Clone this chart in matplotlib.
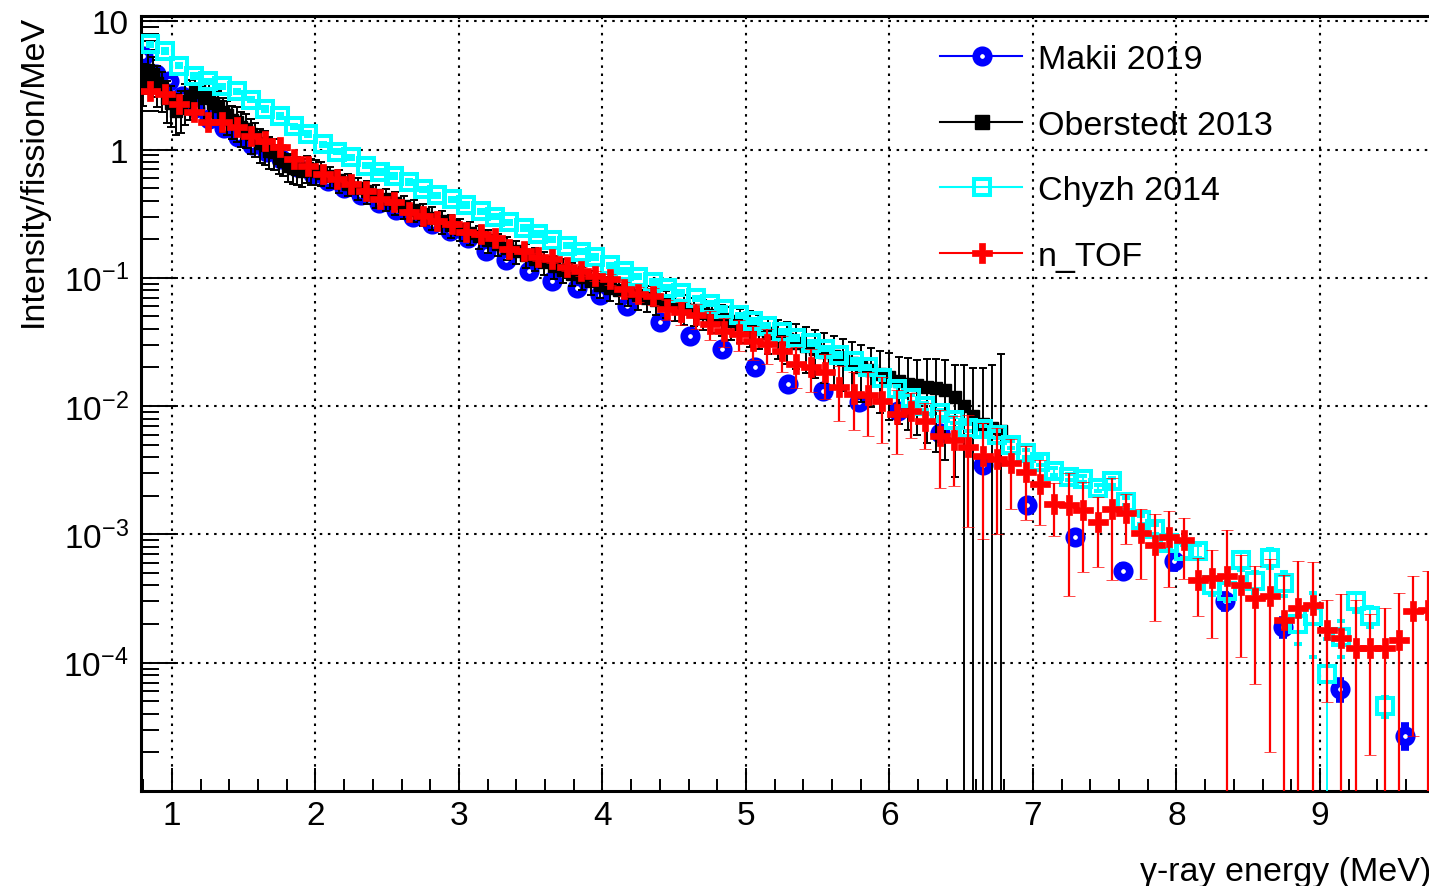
import numpy as np
import matplotlib.pyplot as plt
from matplotlib.lines import Line2D
from matplotlib.ticker import FixedLocator, MultipleLocator, LogLocator, NullFormatter

plt.rcParams['font.family'] = ['Liberation Sans', 'DejaVu Sans']
plt.rcParams['mathtext.fontset'] = 'custom'
plt.rcParams['mathtext.rm'] = 'Liberation Sans'
plt.rcParams['mathtext.it'] = 'Liberation Sans:italic'
plt.rcParams['mathtext.bf'] = 'Liberation Sans:bold'

# ---- data ----
makii_x = [0.80, 0.89, 0.98, 1.07, 1.16, 1.26, 1.36, 1.46, 1.56, 1.66,
           1.76, 1.87, 1.98, 2.09, 2.20, 2.32, 2.44, 2.56, 2.68, 2.81,
           2.94, 3.06, 3.19, 3.33, 3.49, 3.65, 3.82, 3.98, 4.17, 4.40,
           4.61, 4.83, 5.06, 5.29, 5.54, 5.79, 6.06, 6.35, 6.65, 6.96,
           7.29, 7.63, 7.98, 8.34, 8.74, 9.14, 9.59]
makii_y = [5.35, 3.9, 3.4, 2.6, 2.1, 1.74, 1.46, 1.26, 1.09, 0.95,
           0.84, 0.73, 0.64, 0.565, 0.50, 0.44, 0.385, 0.34, 0.30, 0.262,
           0.231, 0.205, 0.163, 0.137, 0.114, 0.095, 0.083, 0.0730, 0.0605, 0.0455,
           0.0354, 0.028, 0.0203, 0.0150, 0.0130, 0.0108, 0.0091, 0.0062, 0.0035, 0.0017,
           0.00095, 0.00052, 0.00062, 0.00030, 0.00019, 0.000062, 0.000027]
makii_err = [0.27, 0.2, 0.16, 0.12, 0.1, 0.085, 0.07, 0.06, 0.055, 0.047,
             0.041, 0.036, 0.031, 0.028, 0.024, 0.021, 0.019, 0.017, 0.015, 0.013,
             0.011, 0.01, 0.008, 0.0067, 0.0056, 0.0047, 0.0041, 0.0036, 0.003, 0.0023,
             0.0018, 0.0014, 0.001, 0.00075, 0.00065, 0.00054, 0.00046, 0.00031, 0.00021, 0.00011,
             0.00007, 0.00005, 0.00007, 0.000035, 0.000025, 0.00001, 0.000005]

ober_x = [0.800, 0.833, 0.865, 0.898, 0.930, 0.963, 0.995, 1.028, 1.060, 1.093,
          1.125, 1.158, 1.190, 1.223, 1.255, 1.288, 1.320, 1.353, 1.385, 1.418,
          1.450, 1.483, 1.515, 1.548, 1.580, 1.613, 1.645, 1.678, 1.710, 1.743,
          1.775, 1.808, 1.840, 1.873, 1.905, 1.938, 1.970, 2.003, 2.035,
          2.100, 2.165, 2.230, 2.295, 2.360, 2.425, 2.490, 2.555, 2.620, 2.685,
          2.750, 2.815, 2.880, 2.945, 3.010, 3.075, 3.140, 3.205, 3.270, 3.335,
          3.400, 3.465, 3.530, 3.595, 3.660, 3.725, 3.790, 3.855, 3.920, 3.985,
          4.050, 4.115, 4.180, 4.245, 4.310, 4.375, 4.440, 4.505, 4.570, 4.635,
          4.700, 4.765, 4.830, 4.895, 4.960, 5.025, 5.090, 5.155, 5.220, 5.285,
          5.350, 5.415, 5.480, 5.545, 5.610, 5.675, 5.740, 5.805, 5.870, 5.935,
          6.000, 6.065, 6.130, 6.195, 6.260, 6.325, 6.390, 6.455, 6.520, 6.585,
          6.650, 6.715, 6.780]
ober_y = [3.4, 4.2, 3.9, 3.3, 3.0, 2.5, 2.3, 2.0, 2.1, 2.4,
          2.6, 2.8, 2.9, 2.5, 2.6, 2.3, 2.2, 1.95, 1.85, 1.7,
          1.65, 1.5, 1.45, 1.32, 1.25, 1.12, 1.08, 0.98, 0.95, 0.86,
          0.82, 0.74, 0.72, 0.70, 0.68, 0.72, 0.69, 0.68, 0.66,
          0.617, 0.577, 0.540, 0.505, 0.472, 0.441, 0.413, 0.386, 0.361, 0.337,
          0.315, 0.295, 0.276, 0.258, 0.241, 0.225, 0.211, 0.197, 0.184, 0.172,
          0.161, 0.151, 0.141, 0.132, 0.123, 0.115, 0.108, 0.101, 0.094, 0.088,
          0.084, 0.080, 0.077, 0.073, 0.070, 0.067, 0.064, 0.061, 0.058, 0.056,
          0.053, 0.051, 0.048, 0.046, 0.044, 0.042, 0.0397, 0.0374, 0.0352, 0.0332,
          0.0313, 0.0295, 0.0278, 0.0262, 0.0246, 0.0231, 0.0217, 0.0203, 0.0191, 0.0179,
          0.0168, 0.0158, 0.0150, 0.0145, 0.0142, 0.0139, 0.0133, 0.0118, 0.0100, 0.0083,
          0.0072, 0.0068, 0.0064]
ober_err = [1.2, 1.5, 1.35, 1.15, 1.05, 0.9, 0.8, 0.7, 0.75, 0.85,
            0.9, 0.95, 0.9, 0.8, 0.8, 0.7, 0.66, 0.58, 0.55, 0.5,
            0.5, 0.45, 0.43, 0.4, 0.37, 0.33, 0.32, 0.27, 0.26, 0.22,
            0.2, 0.18, 0.18, 0.17, 0.17, 0.17, 0.16, 0.15, 0.14,
            0.12, 0.115, 0.108, 0.10, 0.094, 0.088, 0.083, 0.077, 0.072, 0.067,
            0.063, 0.059, 0.055, 0.052, 0.048, 0.045, 0.042, 0.040, 0.037, 0.035,
            0.033, 0.031, 0.029, 0.027, 0.025, 0.024, 0.022, 0.021, 0.020, 0.019,
            0.018, 0.018, 0.017, 0.017, 0.016, 0.016, 0.015, 0.015, 0.015, 0.014,
            0.014, 0.014, 0.013, 0.013, 0.013, 0.013, 0.012, 0.012, 0.012, 0.012,
            0.012, 0.0115, 0.0112, 0.011, 0.0105, 0.010, 0.0098, 0.0095, 0.0092, 0.009,
            0.009, 0.0085, 0.0085, 0.0085, 0.009, 0.0095, 0.0095, 0.009, 0.011, 0.0115,
            0.0125, 0.014, 0.019]

chyzh_x = [0.85, 0.95, 1.05, 1.15, 1.25, 1.35, 1.45, 1.55, 1.65, 1.75,
           1.85, 1.95, 2.05, 2.15, 2.25, 2.35, 2.45, 2.55, 2.65, 2.75,
           2.85, 2.95, 3.05, 3.15, 3.25, 3.35, 3.45, 3.55, 3.65, 3.75,
           3.85, 3.95, 4.05, 4.15, 4.25, 4.35, 4.45, 4.55, 4.65, 4.75,
           4.85, 4.95, 5.05, 5.15, 5.25, 5.35, 5.45, 5.55, 5.65, 5.75,
           5.85, 5.95, 6.05, 6.15, 6.25, 6.35, 6.45, 6.55, 6.65, 6.75,
           6.85, 6.95, 7.05, 7.15, 7.25, 7.35, 7.45, 7.55, 7.65, 7.75,
           7.85, 7.95, 8.05, 8.15, 8.25, 8.35, 8.45, 8.55, 8.65, 8.75,
           8.85, 8.95, 9.05, 9.15, 9.25, 9.35, 9.45]
chyzh_y = [6.6, 5.85, 4.5, 3.75, 3.4, 3.1, 2.85, 2.45, 2.07, 1.82,
           1.52, 1.32, 1.10, 0.96, 0.87, 0.75, 0.67, 0.62, 0.56, 0.49,
           0.44, 0.41, 0.37, 0.33, 0.30, 0.27, 0.245, 0.22, 0.198, 0.178,
           0.16, 0.145, 0.125, 0.113, 0.102, 0.093, 0.084, 0.076, 0.069, 0.063,
           0.057, 0.051, 0.046, 0.042, 0.038, 0.034, 0.031, 0.028, 0.025, 0.0225,
           0.0200, 0.0165, 0.0135, 0.0115, 0.0100, 0.0088, 0.0078, 0.0068, 0.0066, 0.0060,
           0.0050, 0.0043, 0.0037, 0.0031, 0.0028, 0.0027, 0.0023, 0.0026, 0.0018, 0.0013,
           0.0011, 0.00085, 0.00074, 0.00074, 0.00040, 0.00036, 0.00063, 0.00043, 0.00066, 0.00042,
           0.00020, 0.00023, 0.000081, 0.00016, 0.00030, 0.00023, 0.000046]
chyzh_err = [0.2, 0.18, 0.14, 0.11, 0.10, 0.09, 0.085, 0.07, 0.06, 0.055,
             0.045, 0.04, 0.033, 0.029, 0.026, 0.022, 0.02, 0.019, 0.017, 0.015,
             0.013, 0.012, 0.011, 0.010, 0.009, 0.008, 0.0074, 0.0066, 0.006, 0.0053,
             0.0048, 0.0044, 0.0038, 0.0034, 0.0031, 0.0028, 0.0025, 0.0023, 0.0021, 0.0019,
             0.0017, 0.0015, 0.0014, 0.0013, 0.0011, 0.001, 0.0009, 0.00085, 0.00075, 0.00068,
             0.0006, 0.0005, 0.0008, 0.0007, 0.0006, 0.00053, 0.00047, 0.0004, 0.0004, 0.00036,
             0.0003, 0.00026, 0.00022, 0.00019, 0.00016, 0.00016, 0.00014, 0.00016, 0.00012, 0.0001,
             0.00009, 0.00008, 0.00008, 0.00009, 0.00006, 0.00006, 0.0001, 0.00008, 0.00011, 0.00009,
             0.00006, 0.00012, 0.000072, 0.00005, 0.00005, 0.00004, 0.000008]

ntof_x = [0.85, 0.95, 1.05, 1.15, 1.25, 1.35, 1.45, 1.55, 1.65, 1.75,
          1.85, 1.95, 2.05, 2.15, 2.25, 2.35, 2.45, 2.55, 2.65, 2.75,
          2.85, 2.95, 3.05, 3.15, 3.25, 3.35, 3.45, 3.55, 3.65, 3.75,
          3.85, 3.95, 4.05, 4.15, 4.25, 4.35, 4.45, 4.55, 4.65, 4.75,
          4.85, 4.95, 5.05, 5.15, 5.25, 5.35, 5.45, 5.55, 5.65, 5.75,
          5.85, 5.95, 6.05, 6.15, 6.25, 6.35, 6.45, 6.55, 6.65, 6.75,
          6.85, 6.95, 7.05, 7.15, 7.25, 7.35, 7.45, 7.55, 7.65, 7.75,
          7.85, 7.95, 8.05, 8.15, 8.25, 8.35, 8.45, 8.55, 8.65, 8.75,
          8.85, 8.95, 9.05, 9.15, 9.25, 9.35, 9.45, 9.55, 9.65, 9.75]
ntof_y = [2.85, 2.70, 2.26, 1.96, 1.64, 1.64, 1.50, 1.27, 1.16, 1.05,
          0.843, 0.745, 0.645, 0.589, 0.539, 0.476, 0.412, 0.390, 0.326, 0.304,
          0.278, 0.263, 0.228, 0.220, 0.205, 0.168, 0.162, 0.146, 0.141, 0.122,
          0.113, 0.104, 0.098, 0.082, 0.075, 0.072, 0.057, 0.054, 0.051, 0.0438,
          0.0387, 0.0367, 0.0323, 0.0306, 0.0270, 0.0214, 0.0203, 0.0185, 0.0142, 0.0125,
          0.0121, 0.0110, 0.00875, 0.0091, 0.0076, 0.0058, 0.0054, 0.00484, 0.00412, 0.0039,
          0.00357, 0.00309, 0.00249, 0.00174, 0.00168, 0.00154, 0.00126, 0.00159, 0.00146, 0.00102,
          0.00082, 0.00096, 0.00090, 0.00044, 0.000455, 0.00047, 0.00040, 0.000318, 0.00033, 0.000214,
          0.000266, 0.00028, 0.000179, 0.000155, 0.00013, 0.00013, 0.00013, 0.00015, 0.000252, 0.000256]
ntof_err = [0.12, 0.11, 0.09, 0.08, 0.07, 0.07, 0.06, 0.05, 0.05, 0.045,
            0.035, 0.032, 0.028, 0.025, 0.023, 0.021, 0.018, 0.018, 0.015, 0.014,
            0.013, 0.013, 0.012, 0.012, 0.012, 0.010, 0.010, 0.010, 0.010, 0.009,
            0.009, 0.009, 0.010, 0.010, 0.010, 0.011, 0.010, 0.011, 0.011, 0.011,
            0.010, 0.010, 0.0095, 0.0095, 0.0085, 0.0075, 0.0075, 0.0072, 0.0065, 0.0060,
            0.0062, 0.0058, 0.0045, 0.0035, 0.0030, 0.0035, 0.0030, 0.0037, 0.0032, 0.0029,
            0.0020, 0.0018, 0.0013, 0.00077, 0.00135, 0.00103, 0.00070, 0.00115, 0.00062, 0.00057,
            0.00061, 0.00057, 0.00045, 0.00021, 0.00030, 0.00062, 0.00029, 0.00025, 0.00031, 0.00027,
            0.00035, 0.00033, 0.00013, 0.00019, 0.000176, 0.000111, 0.000135, 0.00020, 0.000225, 0.00026]

labels = ["Makii 2019", "Oberstedt 2013", "Chyzh 2014", "n_TOF"]
ytick_vals = [1e-4, 1e-3, 1e-2, 1e-1, 1, 10]
ytick_text = [r'$\mathregular{10^{-4}}$', r'$\mathregular{10^{-3}}$',
              r'$\mathregular{10^{-2}}$', r'$\mathregular{10^{-1}}$', '1', '10']

W, H = 1429, 887
fig = plt.figure(figsize=(W / 100, H / 100), dpi=100)
ax = fig.add_axes([141 / W, 1 - 792 / H, (W - 141) / W, (792 - 17) / H])

# styles for each series
st_makii = dict(marker='o', ls='none', color='blue', ms=9.0, mfc='white', mec='blue', mew=5.5)
st_ober = dict(marker='s', ls='none', color='black', ms=8.0)
st_chyzh = dict(marker='s', ls='none', color='#00ffff', ms=11.5, mfc='none', mec='#00ffff', mew=2.9)
st_ntof = dict(marker='P', ls='none', color='red', ms=14, mfc='red', mec='red', mew=0.5)

ax.errorbar(makii_x, makii_y, yerr=makii_err, ecolor='blue', elinewidth=1.4,
            capsize=3, capthick=1.4, zorder=2, **st_makii)
ax.errorbar(ober_x, ober_y, yerr=ober_err, ecolor='black', elinewidth=1.4,
            capsize=3, capthick=1.4, zorder=3, **st_ober)
ax.errorbar(chyzh_x, chyzh_y, yerr=chyzh_err, ecolor='#00ffff', elinewidth=1.4,
            capsize=3, capthick=1.4, zorder=4, **st_chyzh)
ax.errorbar(ntof_x, ntof_y, yerr=ntof_err, ecolor='red', elinewidth=1.6,
            capsize=4, capthick=1.6, zorder=5, **st_ntof)

ax.set_yscale('log')
ax.set_xlim(0.784, 9.76)
ax.set_ylim(1e-5, 10.98)

ax.xaxis.set_major_locator(MultipleLocator(1))
ax.xaxis.set_minor_locator(MultipleLocator(0.2))
ax.yaxis.set_major_locator(FixedLocator(ytick_vals))
ax.set_yticklabels(ytick_text)
ax.yaxis.set_minor_locator(LogLocator(base=10, subs=np.arange(2, 10)))
ax.yaxis.set_minor_formatter(NullFormatter())

ax.tick_params(axis='x', which='major', direction='in', length=16.6, width=1.4,
               labelsize=24, pad=6.5)
ax.tick_params(axis='x', which='minor', direction='in', length=8.3, width=1.4)
ax.tick_params(axis='y', which='major', direction='in', length=26.6, width=1.4,
               labelsize=24, pad=9)
ax.tick_params(axis='y', which='minor', direction='in', length=13.3, width=1.4)

for s in ['left', 'bottom', 'top']:
    ax.spines[s].set_linewidth(2.2)
ax.spines['right'].set_visible(False)

ax.grid(True, which='major', color='black', lw=1.5, ls=(0, (1.2, 2.7)))
ax.set_axisbelow(True)

ax.set_xlabel('γ-ray energy (MeV)', fontsize=24.5, loc='right', va='baseline')
ax.xaxis.set_label_coords(1.002, (792 - 881) / 775)
ax.set_ylabel('Intensity/fission/MeV', fontsize=24.5, loc='top', va='baseline')
ax.yaxis.set_label_coords((42 - 141) / 1288, (792 - 15) / 775)

# legend, drawn without a frame like the original
rows = [57, 123, 188, 254]
styles = [st_makii, st_ober, st_chyzh, st_ntof]
for lab, py, st in zip(labels, rows, styles):
    yy = 1 - py / H
    fig.add_artist(Line2D([940 / W, 1022 / W], [yy, yy], color=st['color'], lw=1.5,
                          transform=fig.transFigure))
    mk = dict(st)
    if mk['marker'] == 's' and mk.get('mfc') != 'none':
        mk['ms'] = 9.5
    fig.add_artist(Line2D([982 / W], [yy], transform=fig.transFigure, **mk))
    fig.text(1038 / W, 1 - (py + 12) / H, lab, fontsize=24.5, va='baseline', ha='left')

fig.savefig('out.png', dpi=100)
